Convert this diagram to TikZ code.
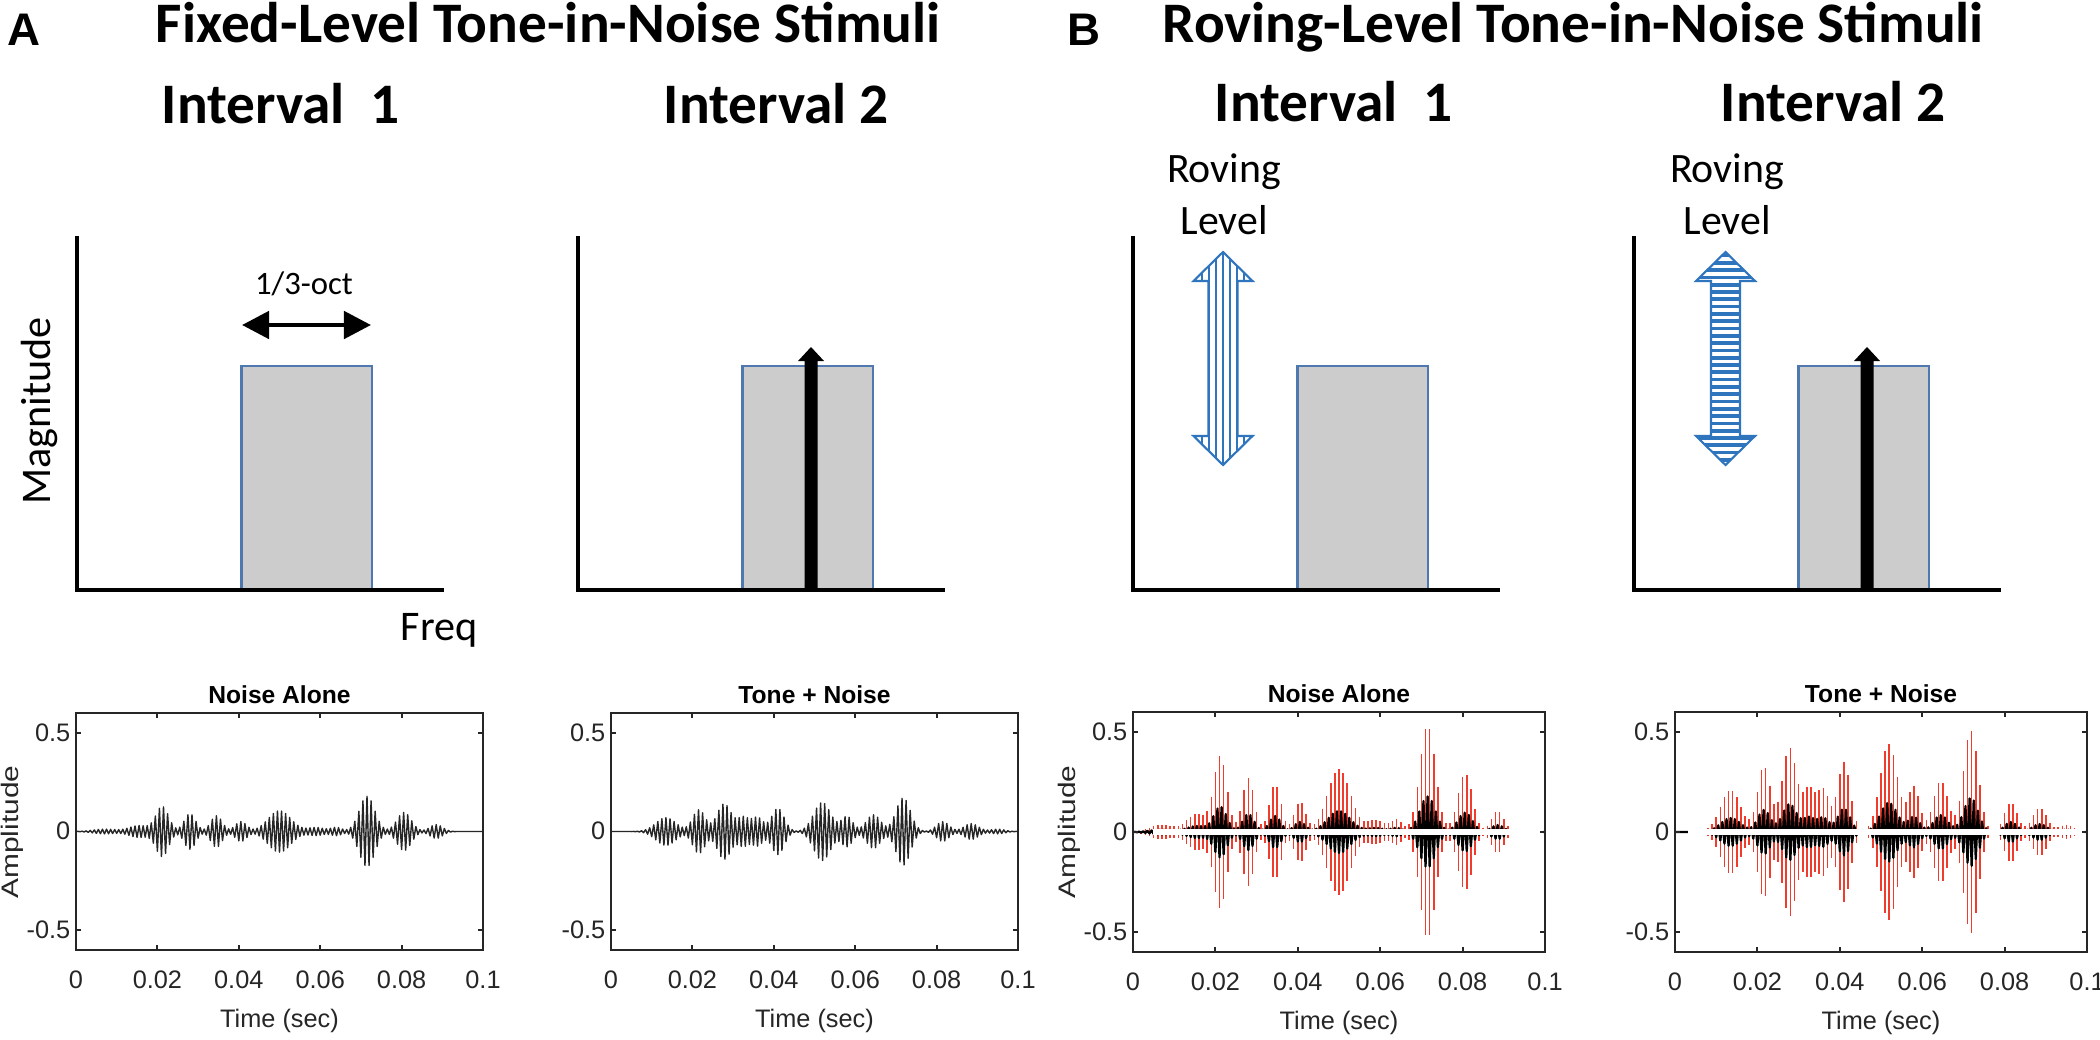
\documentclass[tikz,border=0pt]{standalone}
\usepackage{fontspec}
\setmainfont{Carlito}
\newfontfamily\arialf{Liberation Sans}
\usepackage{graphicx}
\usetikzlibrary{arrows.meta}
\definecolor{rgray}{RGB}{204,204,204}
\definecolor{rblue}{RGB}{79,120,175}
\definecolor{sblue}{RGB}{46,117,190}
\definecolor{axdark}{RGB}{38,38,38}
\definecolor{wred}{RGB}{240,60,45}

\newcommand{\magpanel}[2]{%
  \coordinate (#1top) at (#2,238);
  \coordinate (#1org) at (#2,590);
  \coordinate (#1end) at ({#2+365},590);
  \draw[band] ({#2+164.5},366) rectangle ({#2+295},589);
  \draw[axisl] (#1top) -- (#1org) -- (#1end);
}

\newcommand{\waveaxes}[6]{% #1 name, #2 x0, #3 y0, #4 w, #5 h, #6 title
  \pgfmathsetmacro{\wxa}{#2}\pgfmathsetmacro{\wya}{#3}%
  \pgfmathsetmacro{\wxb}{#2+#4}\pgfmathsetmacro{\wyb}{#3+#5}%
  \pgfmathsetmacro{\wym}{#3+#5/2}%
  \pgfmathsetmacro{\wsy}{#5/1.2}%
  \draw[wbox] (\wxa,\wya) rectangle (\wxb,\wyb);
  \foreach \i/\lab in {0/0,1/0.02,2/0.04,3/0.06,4/0.08,5/0.1}{%
    \pgfmathsetmacro{\tx}{#2+#4*\i/5}%
    \draw[tickl] (\tx,\wya) -- ++(0,5);
    \draw[tickl] (\tx,\wyb) -- ++(0,-5);
    \node[wtick, anchor=base] (#1x\i) at (\tx,\wyb+38) {\lab};
  }
  \foreach \v/\lab [count=\j] in {0.5/0.5,0/0,-0.5/-0.5}{%
    \pgfmathsetmacro{\ty}{\wym-(\v)*\wsy}%
    \draw[tickl] (\wxa,\ty) -- ++(5,0);
    \draw[tickl] (\wxb,\ty) -- ++(-5,0);
    \node[wtick, anchor=mid east] (#1y\j) at (\wxa-5,\ty) {\lab};
  }
  \node[wtitle, anchor=base] (#1title) at ({#2+#4/2},{#3-10}) {#6};
  \node[wtick, anchor=base] (#1time) at ({#2+#4/2},{\wyb+77}) {Time (sec)};
}

% black carrier zigzag: #1 x0, #2 y0, #3 w, #4 h, #5 envelope, #6 style
\newcommand{\wavezig}[6]{%
  \pgfmathsetmacro{\zsx}{#3/200}\pgfmathsetmacro{\zsy}{#4/1.2}\pgfmathsetmacro{\zym}{#2+#4/2}%
  \begin{scope}[shift={(#1,\zym)}]
    \draw[#6] plot[variable=\kk, samples at={0,1,...,200}] ({\kk*\zsx},{(1-2*mod(\kk,2))*\zsy*#5(\kk)});
  \end{scope}
}
% red comb: #1 x0, #2 y0, #3 w, #4 h, #5 envelope
\newcommand{\wavecomb}[5]{%
  \pgfmathsetmacro{\zsx}{#3/200}\pgfmathsetmacro{\zsy}{#4/1.2}\pgfmathsetmacro{\zym}{#2+#4/2}%
  \begin{scope}[shift={(#1,\zym)}]
    \foreach \kk in {4,6,...,196}{%
      \pgfmathsetmacro{\ramp}{3*\zsy*#5(\kk)}%
      \draw[redl] ({\kk*\zsx},{-\ramp}) -- ({\kk*\zsx},{\ramp});
    }
  \end{scope}
}

\begin{document}
\begin{tikzpicture}[x=0.01cm,y=-0.01cm,
  declare function={
    g(\xx,\cc,\ww)=exp(-((\xx-\cc)/\ww)*((\xx-\cc)/\ww));
    envN(\xx)=0.012*g(\xx,14,8)+0.03*g(\xx,31,7)+0.125*g(\xx,42.4,4.5)+0.09*g(\xx,56,4.0)+0.08*g(\xx,69,4.0)+0.05*g(\xx,81,4)+0.105*g(\xx,100,8.0)+0.02*g(\xx,118,6)+0.02*g(\xx,128,4)+0.178*g(\xx,143,5.4)+0.097*g(\xx,161.2,5.0)+0.035*g(\xx,177,4.4);
    envT(\xx)=0.07*g(\xx,27,7)+0.11*g(\xx,43.2,4.4)+0.14*g(\xx,55.6,5)+0.07*g(\xx,65,4)+0.07*g(\xx,72,4)+0.117*g(\xx,82,4.4)+0.147*g(\xx,103.8,6)+0.075*g(\xx,116,4)+0.085*g(\xx,129,5)+0.17*g(\xx,143.6,5)+0.05*g(\xx,163,4.4)+0.04*g(\xx,177,5)+0.012*g(\xx,190,5);
  },
  hdr/.style={font=\fontsize{16.3}{19}\selectfont\bfseries, inner sep=0pt},
  plbl/.style={font=\arialf\bfseries\fontsize{13}{15}\selectfont, inner sep=0pt},
  mag/.style={font=\fontsize{12}{14}\selectfont, inner sep=0pt},
  rov/.style={font=\fontsize{11.9}{14}\selectfont, inner sep=0pt},
  oct/.style={font=\fontsize{9.3}{11}\selectfont, inner sep=0pt},
  wtitle/.style={font=\arialf\bfseries\fontsize{7}{8}\selectfont, inner sep=0pt},
  wtick/.style={font=\arialf\fontsize{7.2}{8}\selectfont, inner sep=0pt, text=axdark},
  wamp/.style={font=\arialf\fontsize{8.5}{10}\selectfont, inner sep=0pt, text=axdark},
  axisl/.style={line width=1.14pt, black, line cap=rect},
  band/.style={fill=rgray, draw=rblue, line width=0.6pt},
  wbox/.style={draw=axdark, line width=0.7pt},
  tickl/.style={draw=axdark, line width=0.55pt},
  wline/.style={draw=black!85, line width=0.4pt, line join=round},
  wlineb/.style={draw=black, line width=0.65pt, line join=round},
  redl/.style={draw=wred, line width=0.45pt},
  rovl/.style={draw=sblue, line width=0.6pt, line join=miter},
]
\useasboundingbox (0,0) rectangle (2100,1039);
\fill[white] (0,0) rectangle (2100,1039);

% ---------- headers ----------
\node[plbl, anchor=base west] (labA) at (7,45) {A};
\node[hdr, anchor=base west] (titA) at (155,42) {Fixed-Level Tone-in-Noise Stimuli};
\node[hdr, anchor=base west] (intA1) at (161,123) {Interval\ \ 1};
\node[hdr, anchor=base west] (intA2) at (663,123) {Interval 2};
\node[plbl, anchor=base west] (labB) at (1067,45) {B};
\node[hdr, anchor=base west] (titB) at (1162,42) {Roving-Level Tone-in-Noise Stimuli};
\node[hdr, anchor=base west] (intB1) at (1214,121) {Interval\ \ 1};
\node[hdr, anchor=base west] (intB2) at (1720,121) {Interval 2};

% ---------- magnitude panels ----------
\magpanel{pa}{77}
\magpanel{pb}{578}
\magpanel{pc}{1133}
\magpanel{pd}{1634}

\node[mag, rotate=90, anchor=base] (magA) at (50,411) {Magnitude};
\node[mag, anchor=base west] (freqA) at (400,640) {Freq};
\coordinate (octL) at (242,325);
\coordinate (octR) at (371,325);
\draw[line width=1.35pt, {Triangle[length=7.7pt,width=7.7pt]}-{Triangle[length=7.7pt,width=7.7pt]}] (octL) -- (octR);
\node[oct, anchor=base] (octlab) at (304,294) {1/3-oct};

% tone arrows
\foreach \cx/\nm in {811/toneA,1867/toneB}{
  \coordinate (\nm) at (\cx,347);
  \fill[black] (\cx-6.5,590) -- (\cx-6.5,361) -- (\cx-13,361) -- (\nm) -- (\cx+13,361) -- (\cx+6.5,361) -- (\cx+6.5,590) -- cycle;
}

% roving arrows
\def\rovpath#1{({#1},252) -- ({#1+29.5},281) -- ({#1+14.5},281) -- ({#1+14.5},436) -- ({#1+29.5},436) -- ({#1},465) -- ({#1-29.5},436) -- ({#1-14.5},436) -- ({#1-14.5},281) -- ({#1-29.5},281) -- cycle}
\begin{scope}
  \clip \rovpath{1223};
  \foreach \d in {-28,-21,...,28} \draw[sblue, line width=0.72pt] (1223+\d,245) -- (1223+\d,472);
\end{scope}
\draw[rovl] \rovpath{1223};
\begin{scope}
  \clip \rovpath{1725.5};
  \foreach \yy in {255.5,262.8,...,470} \draw[sblue, line width=1.05pt] (1690,\yy) -- (1762,\yy);
\end{scope}
\draw[rovl] \rovpath{1725.5};

\node[rov, anchor=base] (rovB1a) at (1224,182) {Roving};
\node[rov, anchor=base] (rovB1b) at (1224,234) {Level};
\node[rov, anchor=base] (rovB2a) at (1727,182) {Roving};
\node[rov, anchor=base] (rovB2b) at (1727,234) {Level};

% ---------- waveforms ----------
\wavezig{76}{713}{407}{237}{envN}{wline}
\wavezig{611}{713}{407}{237}{envT}{wline}
\wavecomb{1133}{712}{412}{240}{envN}
\wavezig{1133}{712}{412}{240}{envN}{wlineb}
\wavecomb{1675}{712}{412}{240}{envT}
\wavezig{1675}{712}{412}{240}{envT}{wlineb}
\draw[white, line width=1.7pt] (1153,832) -- (1543,832);
\draw[white, line width=1.7pt] (1688,832) -- (2085,832);

\waveaxes{wa}{76}{713}{407}{237}{Noise Alone}
\waveaxes{wb}{611}{713}{407}{237}{Tone + Noise}
\waveaxes{wc}{1133}{712}{412}{240}{Noise Alone}
\waveaxes{wd}{1675}{712}{412}{240}{Tone + Noise}

\node[wamp, rotate=90, anchor=base] (ampA) at (18.5,832) {\scalebox{1}[0.8]{Amplitude}};
\node[wamp, rotate=90, anchor=base] (ampB) at (1075,832) {\scalebox{1}[0.8]{Amplitude}};
\end{tikzpicture}
\end{document}
